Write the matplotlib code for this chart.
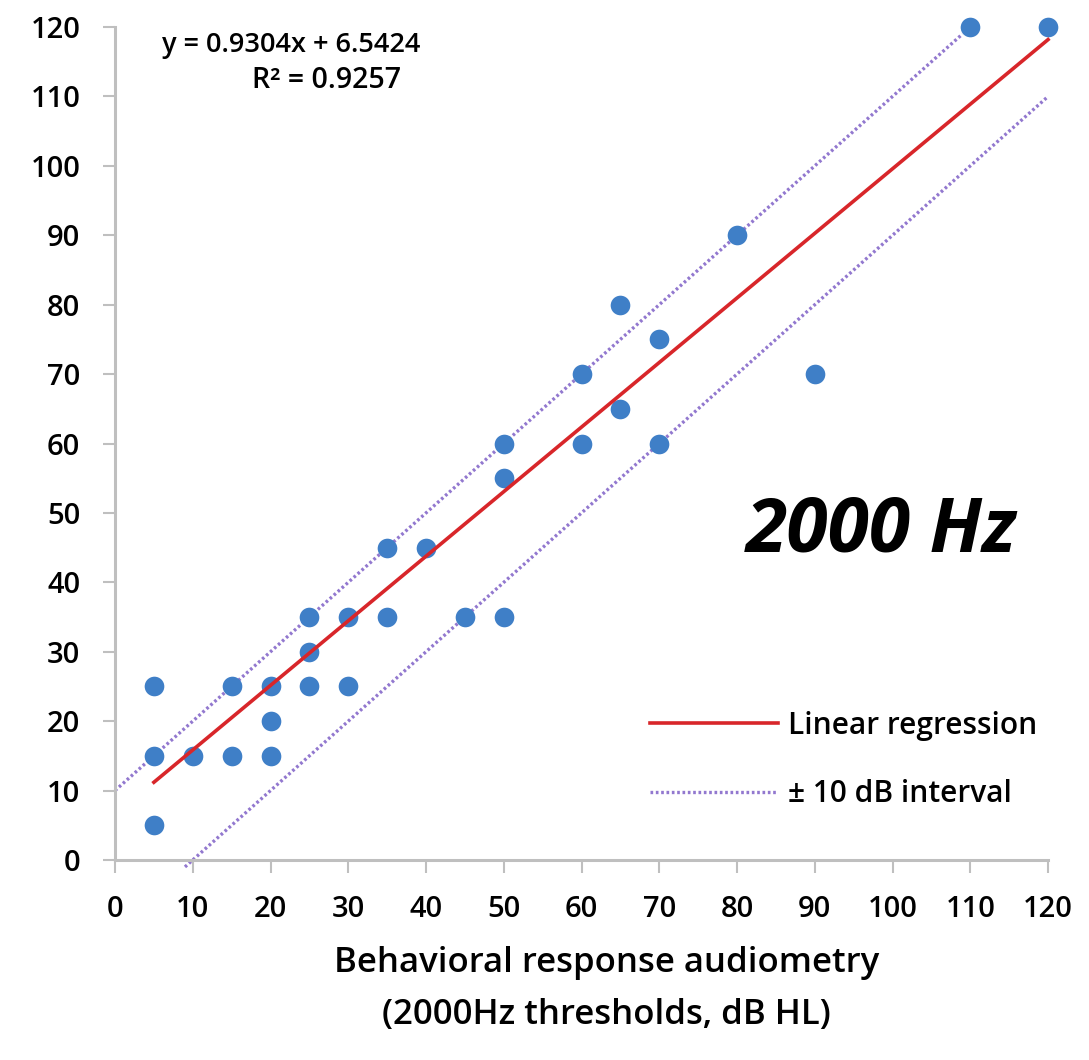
import numpy as np
import matplotlib.pyplot as plt

# behavioral thresholds (x) vs. predicted thresholds (y), dB HL
bra_x = [5, 5, 5, 10, 15, 15, 20, 20, 20, 25, 25, 25, 30, 30, 35, 35, 40, 45,
         50, 50, 50, 60, 60, 65, 65, 70, 70, 80, 90, 110, 120]
bra_y = [25, 15, 5, 15, 25, 15, 25, 20, 15, 35, 30, 25, 35, 25, 45, 35, 45, 35,
         60, 55, 35, 70, 60, 80, 65, 75, 60, 90, 70, 120, 120]

slope = 0.9304
intercept = 6.5424
r2 = 0.9257

reg_x = [5, 120]
upper_x = [0, 109]
lower_x = [9, 120]
ticks = list(range(0, 121, 10))

plt.rcParams['font.family'] = ['Open Sans', 'DejaVu Sans']

fig = plt.figure(figsize=(10.89, 10.60), dpi=100)
ax = fig.add_axes([0.1056, 0.1887, 0.8568, 0.7858])

ax.scatter(bra_x, bra_y, s=200, color='#3F7FC7', zorder=3, linewidths=0, clip_on=False)

rx = np.array(reg_x)
ax.plot(rx, slope * rx + intercept, color='#D8262A', lw=2.6, label='Linear regression',
        zorder=4, clip_on=False)
ux = np.array(upper_x)
ax.plot(ux, ux + 10, color='#9278CF', lw=2.4, ls=(0, (0.8, 0.8)), label='\u00b1 10 dB interval',
        zorder=2, clip_on=False)
lx = np.array(lower_x)
ax.plot(lx, lx - 10, color='#9278CF', lw=2.4, ls=(0, (0.8, 0.8)), zorder=2, clip_on=False)

ax.set_xlim(0, 120)
ax.set_ylim(0, 120)
ax.set_xticks(ticks)
ax.set_yticks(ticks)
ax.tick_params(labelsize=21, length=9, width=1.5, color='#BFBFBF', pad=16)
for lab in ax.get_xticklabels() + ax.get_yticklabels():
    lab.set_fontweight('semibold')
for s in ['top', 'right']:
    ax.spines[s].set_visible(False)
for s in ['left', 'bottom']:
    ax.spines[s].set_color('#BFBFBF')
    ax.spines[s].set_linewidth(2.2)

ax.text(39.3, 117.4, f'y = {slope}x + {intercept}', fontsize=19.5, fontweight='semibold',
        ha='right', va='center')
ax.text(27.2, 112.3, f'R\u00b2 = {r2}', fontsize=20.5, fontweight='semibold',
        ha='center', va='center')

ax.text(98.5, 47.3, '2000 Hz', fontsize=54, fontweight='bold', style='italic',
        ha='center', va='center')

ax.set_xlabel('Behavioral response audiometry\n(2000Hz thresholds, dB HL)',
              fontsize=25, fontweight='semibold', linespacing=1.7)
ax.xaxis.set_label_coords(0.527, -0.103, transform=ax.transAxes)
ax.xaxis.label.set_va('top')

leg = ax.legend(loc='center left', bbox_to_anchor=(0.573, 0.12), frameon=False,
                handlelength=4.3, labelspacing=1.3, handletextpad=0.35,
                borderpad=0, borderaxespad=0,
                prop={'weight': 'semibold', 'size': 21.5})

fig.savefig('out.png', dpi=100)
